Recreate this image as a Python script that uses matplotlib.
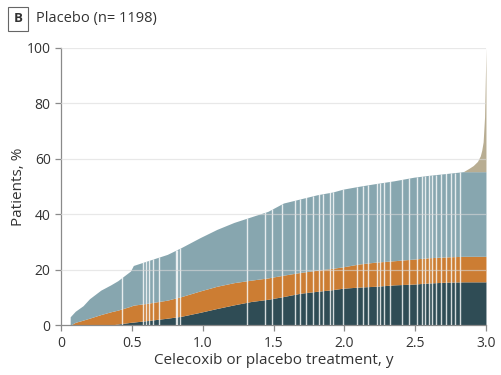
import matplotlib
matplotlib.use('Agg')
import matplotlib.pyplot as plt
import numpy as np

plt.rcParams['font.family'] = ['Open Sans', 'DejaVu Sans']

# years on treatment
years = [0.064, 0.1, 0.155, 0.2, 0.28, 0.35, 0.4, 0.49, 0.51, 0.6, 0.75, 0.85, 0.98,
         1.1, 1.22, 1.34, 1.46, 1.57, 1.69, 1.81, 1.92, 1.99, 2.1, 2.22, 2.35, 2.49,
         2.6, 2.73, 2.84, 2.88, 2.91, 2.94, 2.96, 2.97, 2.98, 2.99, 3.0]

# cumulative tops of each stacked band, % of patients
dark_top = [0, 0, 0, 0, 0, 0, 0.4, 1.0, 1.1, 1.6, 2.5, 3.2, 4.6,
            6.0, 7.3, 8.5, 9.3, 10.3, 11.5, 12.2, 12.8, 13.3, 13.7, 14.0, 14.5, 14.8,
            15.2, 15.5, 15.6, 15.6, 15.6, 15.6, 15.6, 15.6, 15.6, 15.6, 15.6]
orange_top = [0, 1.0, 1.8, 2.5, 3.8, 4.8, 5.4, 6.8, 7.2, 7.8, 9.0, 10.3, 12.3,
              14.0, 15.3, 16.2, 17.0, 18.0, 19.0, 19.8, 20.5, 21.0, 22.0, 22.7, 23.2, 23.8,
              24.3, 24.6, 24.8, 24.8, 24.8, 24.8, 24.8, 24.8, 24.8, 24.8, 24.8]
blue_top = [3.0, 5.0, 7.0, 9.5, 12.6, 14.5, 16.0, 19.5, 21.5, 23.0, 25.5, 28.0, 31.5,
            34.5, 37.0, 39.0, 41.0, 44.0, 45.5, 47.0, 48.0, 49.0, 50.0, 51.0, 52.0, 53.3,
            54.0, 54.7, 55.3, 55.3, 55.3, 55.3, 55.3, 55.3, 55.3, 55.3, 55.3]
tan_top = [3.0, 5.0, 7.0, 9.5, 12.6, 14.5, 16.0, 19.5, 21.5, 23.0, 25.5, 28.0, 31.5,
           34.5, 37.0, 39.0, 41.0, 44.0, 45.5, 47.0, 48.0, 49.0, 50.0, 51.0, 52.0, 53.3,
           54.0, 54.7, 55.3, 56.5, 57.5, 59.0, 61.0, 63.0, 66.0, 75.0, 100.0]

# white gaps between patient columns
gaps = [0.43, 0.58, 0.60, 0.62, 0.65, 0.69, 0.81, 0.82, 0.84, 1.31, 1.44, 1.49,
        1.56, 1.65, 1.69, 1.73, 1.78, 1.82, 1.85, 1.90, 1.92, 1.99, 2.09, 2.13,
        2.17, 2.23, 2.25, 2.28, 2.32, 2.41, 2.46, 2.51, 2.55, 2.57, 2.60, 2.62,
        2.65, 2.68, 2.72, 2.75, 2.78, 2.82]

c_dark = '#2f4c55'
c_orange = '#cc7d33'
c_blue = '#87a6af'
c_tan = '#b8ad92'

fig = plt.figure(figsize=(5.01, 3.75), dpi=100)
ax = fig.add_axes([0.122, 0.133, 0.848, 0.740])

x = np.array(years)
ax.fill_between(x, 0, dark_top, color=c_dark, lw=0, zorder=2)
ax.fill_between(x, dark_top, orange_top, color=c_orange, lw=0, zorder=2)
ax.fill_between(x, orange_top, blue_top, color=c_blue, lw=0, zorder=2)
ax.fill_between(x, blue_top, tan_top, color=c_tan, lw=0, zorder=2)

gap_h = np.interp(gaps, x, blue_top)
ax.vlines(gaps, 0, gap_h, color='white', lw=1.0, alpha=0.8, zorder=3)

for yv in [20, 40, 60, 80, 100]:
    ax.axhline(yv, color='#d9d9d9', lw=0.9, alpha=0.6, zorder=4)

ax.set_xlim(0, 3.0)
ax.set_ylim(0, 100)
ax.set_xticks([0, 0.5, 1.0, 1.5, 2.0, 2.5, 3.0])
ax.set_xticklabels(['0', '0.5', '1.0', '1.5', '2.0', '2.5', '3.0'])
ax.set_yticks([0, 20, 40, 60, 80, 100])

for s in ['top', 'right']:
    ax.spines[s].set_visible(False)
for s in ['left', 'bottom']:
    ax.spines[s].set_color('#8a8a8a')
    ax.spines[s].set_linewidth(0.9)
ax.tick_params(colors='#8a8a8a', labelcolor='#333333', labelsize=10, length=4, width=0.9)

ax.set_xlabel('Celecoxib or placebo treatment, y', fontsize=11, color='#333333')
ax.set_ylabel('Patients, %', fontsize=11, color='#333333')
ax.xaxis.set_label_coords(0.5, -0.1)
ax.yaxis.set_label_coords(-0.082, 0.5)

fig.text(0.036, 0.95, 'B', fontsize=9.5, fontweight='bold', color='#333333', va='center', ha='center',
         bbox=dict(boxstyle='square,pad=0.4', fc='white', ec='#666666', lw=0.8))
fig.text(0.072, 0.95, 'Placebo (n= 1198)', fontsize=10.5, color='#333333', va='center', ha='left')

fig.savefig('out.png', dpi=100)
